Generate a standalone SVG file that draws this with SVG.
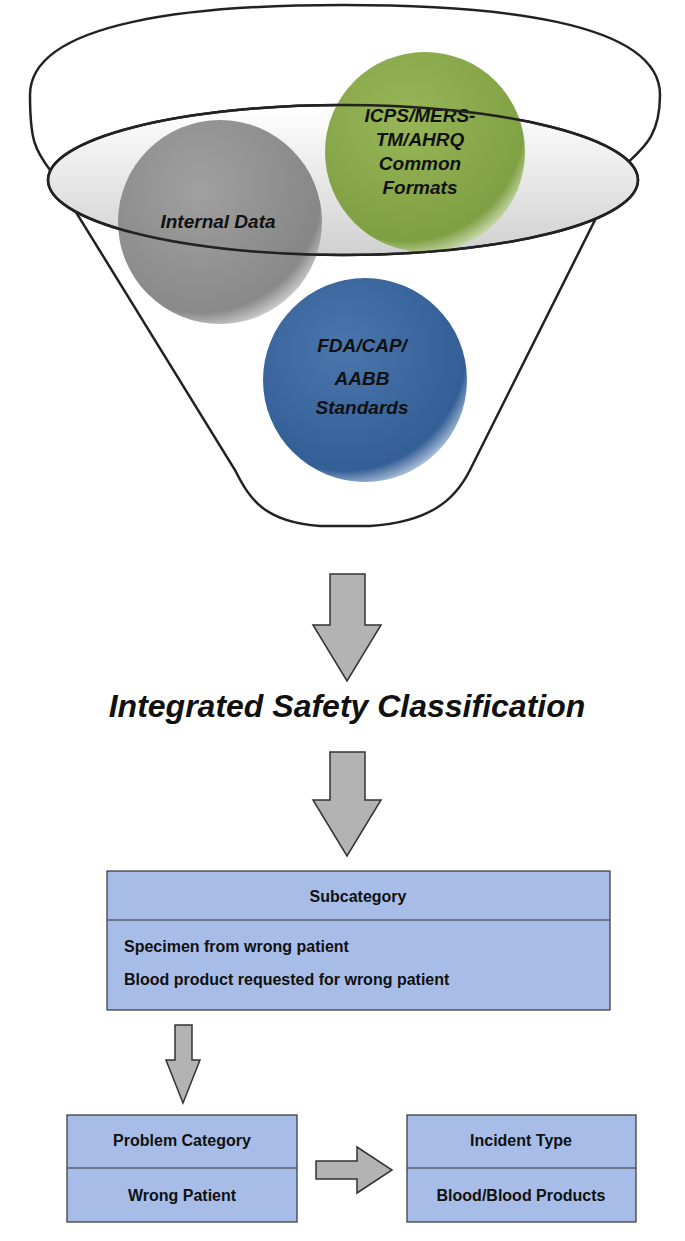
<svg xmlns="http://www.w3.org/2000/svg" width="685" height="1241" viewBox="0 0 685 1241">
<style>
.t{font-family:"Liberation Sans",Arial,sans-serif;font-weight:bold;fill:#111}
.ci{font-family:"Liberation Sans",Arial,sans-serif;font-weight:bold;font-style:italic;font-size:19px;fill:#111;text-anchor:middle}
.box{fill:#a7bde8;stroke:#333;stroke-width:1.2}
.arr{fill:#b3b3b3;stroke:#333;stroke-width:1.5}
</style>
<defs>
<radialGradient id="gg" cx="0.4" cy="0.35" r="0.7"><stop offset="0" stop-color="#9a9a9a"/><stop offset="0.85" stop-color="#7f7f7f"/><stop offset="1" stop-color="#d8d8d8"/></radialGradient>
<radialGradient id="gr" cx="0.4" cy="0.35" r="0.7"><stop offset="0" stop-color="#8fb04a"/><stop offset="0.85" stop-color="#769a35"/><stop offset="1" stop-color="#d8e6c0"/></radialGradient>
<radialGradient id="bl" cx="0.4" cy="0.35" r="0.7"><stop offset="0" stop-color="#4a76ac"/><stop offset="0.85" stop-color="#345f96"/><stop offset="1" stop-color="#c9d7ea"/></radialGradient>
<linearGradient id="el" x1="0" y1="0" x2="0" y2="1"><stop offset="0" stop-color="#fff"/><stop offset="1" stop-color="#d0d0d0"/></linearGradient>
</defs>
<g id="funnel">
<path d="M30,95 C30,20 200,5 343,5 C490,5 660,20 660,95 C660,140 640,150 620,170 L470,470 C455,500 430,522 370,526 L320,526 C265,522 250,500 235,470 L50,170 C35,150 30,140 30,95 Z" fill="#fff" stroke="#222" stroke-width="2.5"/>
<ellipse cx="343" cy="180" rx="295" ry="75" fill="url(#el)" stroke="#222" stroke-width="2.5"/>
</g>
<g id="internal"><circle cx="220" cy="222" r="102" fill="url(#gg)" opacity="0.92"/><text class="ci" x="218" y="228">Internal Data</text></g>
<g id="icps"><circle cx="425" cy="152" r="100" fill="url(#gr)" opacity="0.92"/><text class="ci" x="420" y="122">ICPS/MERS-</text><text class="ci" x="420" y="146">TM/AHRQ</text><text class="ci" x="420" y="170">Common</text><text class="ci" x="420" y="194">Formats</text></g>
<ellipse cx="343" cy="180" rx="295" ry="75" fill="none" stroke="#222" stroke-width="2.5"/>
<g id="fda"><circle cx="365" cy="380" r="102" fill="url(#bl)"/><text class="ci" x="362" y="352">FDA/CAP/</text><text class="ci" x="362" y="385">AABB</text><text class="ci" x="362" y="414">Standards</text></g>
<g id="connectors">
<path class="arr" d="M330,574 H365 V625 H381 L347,681 L313,625 H330 Z"/>
<path class="arr" d="M330,752 H365 V800 H381 L347,856 L313,800 H330 Z"/>
<path class="arr" d="M175,1025 H192 V1060 H200 L183,1103 L166,1060 H175 Z"/>
<path class="arr" d="M316,1161 H357 V1147 L392,1170 L357,1193 V1179 H316 Z"/>
</g>
<g id="title"><text class="t" x="347" y="717" font-size="32" font-style="italic" text-anchor="middle">Integrated Safety Classification</text></g>
<g id="subcategory">
<rect class="box" x="107" y="871" width="503" height="139"/>
<line x1="107" y1="920" x2="610" y2="920" stroke="#333" stroke-width="1.2"/>
<text class="t" x="358" y="902" font-size="16" text-anchor="middle">Subcategory</text>
<text class="t" x="124" y="952" font-size="16">Specimen from wrong patient</text>
<text class="t" x="124" y="985" font-size="16">Blood product requested for wrong patient</text>
</g>
<g id="problem">
<rect class="box" x="67" y="1115" width="230" height="107"/>
<line x1="67" y1="1168" x2="297" y2="1168" stroke="#333" stroke-width="1.2"/>
<text class="t" x="182" y="1146" font-size="16" text-anchor="middle">Problem Category</text>
<text class="t" x="182" y="1201" font-size="16" text-anchor="middle">Wrong Patient</text>
</g>
<g id="incident">
<rect class="box" x="407" y="1115" width="229" height="107"/>
<line x1="407" y1="1168" x2="636" y2="1168" stroke="#333" stroke-width="1.2"/>
<text class="t" x="521" y="1146" font-size="16" text-anchor="middle">Incident Type</text>
<text class="t" x="521" y="1201" font-size="16" text-anchor="middle">Blood/Blood Products</text>
</g>
</svg>
